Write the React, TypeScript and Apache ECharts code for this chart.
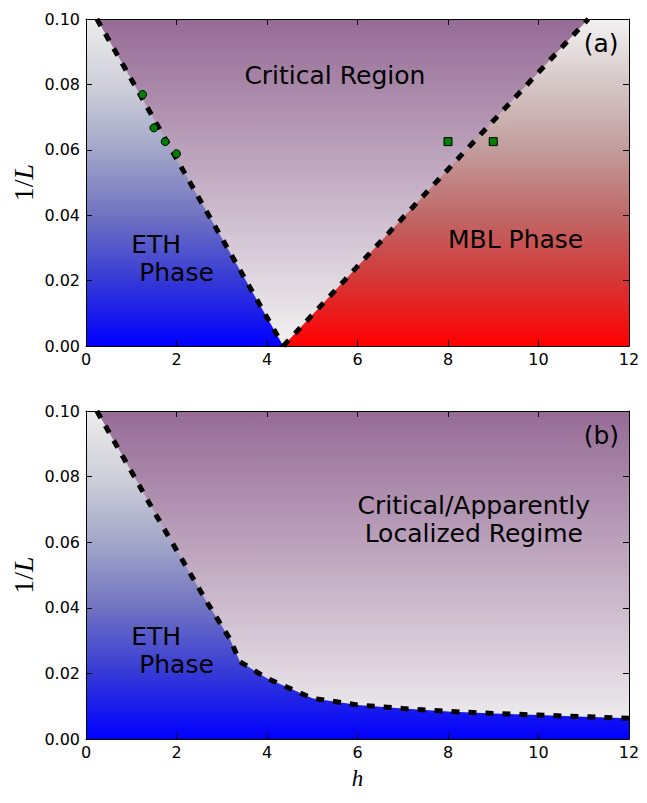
import React, { useEffect, useRef } from "react";
import * as echarts from "echarts";

// axis ranges
const H_MIN = 0;
const H_MAX = 12;
const H_STEP = 2;
const INV_L_MIN = 0;
const INV_L_MAX = 0.1;
const INV_L_STEP = 0.02;

// panel (a): phase boundaries
const leftLineH = [0.24, 4.36];
const leftLineInvL = [0.1, 0.0];
const rightLineH = [4.36, 11.1];
const rightLineInvL = [0.0, 0.1];

// panel (a): finite-size crossing points
const ethDotsH = [1.25, 1.5, 1.75, 2.0];
const ethDotsInvL = [0.0769, 0.0667, 0.0625, 0.0588];
const mblSquaresH = [8, 9];
const mblSquaresInvL = [0.0625, 0.0625];

// panel (b): ETH crossover
const crossoverH = [0.24, 1.0, 1.56, 2.11, 2.67, 3.18, 3.4, 4.0, 5.0, 6.0, 7.0, 8.0, 9.0, 10.0, 11.0, 12.0];
const crossoverInvL = [0.1, 0.0816, 0.068, 0.055, 0.0418, 0.0305, 0.0236, 0.0185, 0.0124, 0.0104, 0.0093, 0.0084, 0.0078, 0.0073, 0.0068, 0.0063];

// region annotations (anchor = left end of the last line's baseline)
const labelsA = ["Critical Region", "ETH\n\u00a0Phase", "MBL Phase", "(a)"];
const labelsAH = [3.5, 1.0, 8.0, 11.0];
const labelsAInvL = [0.08, 0.02, 0.03, 0.09];
const labelsB = ["Critical/Apparently\nLocalized Regime", "ETH\n\u00a0Phase", "(b)"];
const labelsBH = [6.0, 1.0, 11.0];
const labelsBInvL = [0.06, 0.02, 0.09];
const labelsBCentered = [true, false, false];

// colour ramps, top of the plot to bottom
const ethColors = ["#ececec", "#cfd0da", "#a3a6c8", "#7073c0", "#3539d6", "#0000ff"];
const mblColors = ["#f2f2f2", "#d6c6c6", "#c29c9c", "#c06868", "#d53636", "#ff0000"];
const criticalColors = ["#966b96", "#f2f2f2"];

const SANS = "DejaVu Sans";
const SERIF = "Liberation Serif";
const TEXT_SIZE = 25;
const TEXT_LINE = 28;

const zip = (xs: number[], ys: number[]) => xs.map((x, i) => [x, ys[i]]);

const ramp = (colors: string[]) =>
  new echarts.graphic.LinearGradient(
    0,
    0,
    0,
    1,
    colors.map((c, i) => ({ offset: i / (colors.length - 1), color: c }))
  );

const gridBoxes = [
  { left: 86, top: 19, width: 543, height: 327 },
  { left: 86, top: 411, width: 543, height: 328 },
];

function xAxes(gridIndex: number) {
  const base = {
    type: "value",
    gridIndex,
    min: H_MIN,
    max: H_MAX,
    interval: H_STEP,
    z: 10,
    axisLine: { show: true, onZero: false, lineStyle: { color: "#000", width: 1 } },
    axisTick: { show: true, inside: true, length: 6, lineStyle: { color: "#000", width: 1 } },
    splitLine: { show: false },
  };
  return [
    {
      ...base,
      position: "bottom",
      axisLabel: {
        show: true,
        color: "#000",
        fontSize: 16,
        fontFamily: SANS,
        margin: 5,
        showMinLabel: true,
        showMaxLabel: true,
      },
    },
    { ...base, position: "top", axisLabel: { show: false } },
  ];
}

function yAxes(gridIndex: number) {
  const base = {
    type: "value",
    gridIndex,
    min: INV_L_MIN,
    max: INV_L_MAX,
    interval: INV_L_STEP,
    z: 10,
    axisLine: { show: true, onZero: false, lineStyle: { color: "#000", width: 1 } },
    axisTick: { show: true, inside: true, length: 6, lineStyle: { color: "#000", width: 1 } },
    splitLine: { show: false },
  };
  return [
    {
      ...base,
      position: "left",
      axisLabel: {
        show: true,
        color: "#000",
        fontSize: 16,
        fontFamily: SANS,
        margin: 6,
        showMinLabel: true,
        showMaxLabel: true,
        formatter: (v: number) => v.toFixed(2),
      },
    },
    { ...base, position: "right", axisLabel: { show: false } },
  ];
}

function fill(axis: number, data: number[][], colors: string[]) {
  return {
    type: "line",
    xAxisIndex: axis * 2,
    yAxisIndex: axis * 2,
    data,
    symbol: "none",
    silent: true,
    z: 1,
    lineStyle: { width: 0, opacity: 0 },
    areaStyle: { color: ramp(colors), opacity: 1, origin: "start" },
  };
}

function dashed(axis: number, data: number[][]) {
  return {
    type: "line",
    xAxisIndex: axis * 2,
    yAxisIndex: axis * 2,
    data,
    symbol: "none",
    silent: true,
    z: 3,
    lineStyle: { color: "#000", width: 5, type: [8, 9], cap: "butt" },
  };
}

function markers(axis: number, data: number[][], symbol: string) {
  return {
    type: "scatter",
    xAxisIndex: axis * 2,
    yAxisIndex: axis * 2,
    data,
    symbol,
    symbolSize: 8,
    z: 5,
    clip: false,
    itemStyle: { color: "#008000", borderColor: "#000", borderWidth: 1, opacity: 1 },
  };
}

function measure(text: string, font: string) {
  const ctx = document.createElement("canvas").getContext("2d");
  if (!ctx) return 0;
  ctx.font = font;
  return Math.max(...text.split("\n").map((l) => ctx.measureText(l).width));
}

export default function App() {
  const ref = useRef<HTMLDivElement>(null);

  useEffect(() => {
    document.body.style.margin = "0";
    if (!ref.current) return;
    const chart = echarts.init(ref.current, null, { renderer: "svg" });

    const topEdge = [
      [H_MIN, INV_L_MAX],
      [H_MAX, INV_L_MAX],
    ];

    const option: any = {
      animation: false,
      backgroundColor: "#fff",
      grid: gridBoxes.map((g) => ({ ...g, containLabel: false })),
      xAxis: [...xAxes(0), ...xAxes(1)],
      yAxis: [...yAxes(0), ...yAxes(1)],
      series: [
        // panel (a)
        fill(0, topEdge, criticalColors),
        fill(0, [[H_MIN, INV_L_MAX], ...zip(leftLineH, leftLineInvL)], ethColors),
        fill(0, [...zip(rightLineH, rightLineInvL), [H_MAX, INV_L_MAX]], mblColors),
        dashed(0, zip(leftLineH, leftLineInvL)),
        dashed(0, zip(rightLineH, rightLineInvL)),
        markers(0, zip(ethDotsH, ethDotsInvL), "circle"),
        markers(0, zip(mblSquaresH, mblSquaresInvL), "rect"),
        // panel (b)
        fill(1, topEdge, criticalColors),
        fill(1, [[H_MIN, INV_L_MAX], ...zip(crossoverH, crossoverInvL)], ethColors),
        dashed(1, zip(crossoverH, crossoverInvL)),
      ],
    };
    chart.setOption(option);

    const font = `${TEXT_SIZE}px "${SANS}"`;
    const graphics: any[] = [];
    const addLabel = (grid: number, text: string, h: number, invL: number, centered: boolean) => {
      const [px, py] = chart.convertToPixel({ gridIndex: grid }, [h, invL]) as number[];
      const w = centered ? measure(text, font) : 0;
      graphics.push({
        type: "text",
        x: centered ? px + w / 2 : px,
        y: py + 5.5,
        z: 100,
        silent: true,
        style: {
          text,
          fontSize: TEXT_SIZE,
          fontFamily: SANS,
          lineHeight: TEXT_LINE,
          fill: "#000",
          align: centered ? "center" : "left",
          textAlign: centered ? "center" : "left",
          verticalAlign: "bottom",
          textVerticalAlign: "bottom",
        },
      });
    };
    labelsA.forEach((t, i) => addLabel(0, t, labelsAH[i], labelsAInvL[i], false));
    labelsB.forEach((t, i) => addLabel(1, t, labelsBH[i], labelsBInvL[i], labelsBCentered[i]));

    // y-axis titles
    gridBoxes.forEach((g) => {
      graphics.push({
        type: "text",
        x: 23,
        y: g.top + g.height / 2,
        rotation: Math.PI / 2,
        z: 100,
        silent: true,
        style: {
          text: "{n|1/}{v|L}",
          rich: {
            n: { fontFamily: SERIF, fontSize: 28, fill: "#000" },
            v: { fontFamily: SERIF, fontSize: 28, fontStyle: "italic", fill: "#000" },
          },
          align: "center",
          textAlign: "center",
          verticalAlign: "middle",
          textVerticalAlign: "middle",
        },
      });
    });

    // x-axis title
    const [hx] = chart.convertToPixel({ gridIndex: 1 }, [(H_MIN + H_MAX) / 2, INV_L_MIN]) as number[];
    graphics.push({
      type: "text",
      x: hx,
      y: 778,
      z: 100,
      silent: true,
      style: {
        text: "h",
        fontFamily: SERIF,
        fontSize: 23,
        fontStyle: "italic",
        fill: "#000",
        align: "center",
        textAlign: "center",
        verticalAlign: "middle",
        textVerticalAlign: "middle",
      },
    });

    chart.setOption({ graphic: graphics });

    return () => chart.dispose();
  }, []);

  return <div ref={ref} style={{ width: 647, height: 803 }} />;
}
